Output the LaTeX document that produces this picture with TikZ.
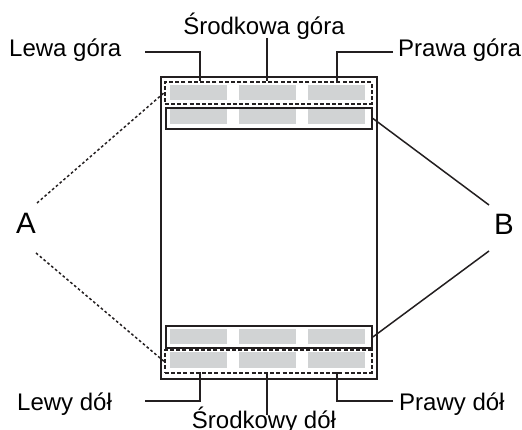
\documentclass[tikz,border=0pt]{standalone}
\usepackage{fontspec}
\setmainfont{Liberation Sans}
\definecolor{ink}{HTML}{231F20}
\definecolor{cell}{HTML}{D1D3D4}
\tikzset{
  pagebox/.style={draw=ink, line width=2.2pt, inner sep=0pt, anchor=north west},
  solidbox/.style={draw=ink, line width=1.9pt, inner sep=0pt, anchor=north west},
  dashbox/.style={draw=ink, line width=1.7pt, dash pattern=on 4pt off 2.2pt, inner sep=0pt, anchor=north west},
  cellbox/.style={fill=cell, inner sep=0pt, minimum width=57pt, anchor=north west},
  leader/.style={draw=ink, line width=1.5pt},
  dotleader/.style={draw=ink, line width=1.5pt, dash pattern=on 2.6pt off 2.4pt},
  lbl/.style={inner sep=0pt, font=\fontsize{24}{28}\selectfont},
  big/.style={inner sep=0pt, font=\fontsize{29.5}{34}\selectfont}
}
\begin{document}
\begin{tikzpicture}[x=1pt,y=-1pt]
\useasboundingbox (0,0) rectangle (522,430);
% page
\node[pagebox, minimum width=216pt, minimum height=302pt] (page) at (160,76) {};
% header / footer boxes
\node[dashbox, minimum width=207pt, minimum height=22pt] (dt) at (164,81) {};
\node[solidbox, minimum width=206pt, minimum height=21pt] (st) at (165,107) {};
\node[solidbox, minimum width=206pt, minimum height=22pt] (sb) at (165,325) {};
\node[dashbox, minimum width=207pt, minimum height=23pt] (db) at (164,349) {};
% cells
\foreach \x [count=\i] in {170,239,308}{
  \node[cellbox, minimum height=15pt] (c1\i) at (\x,85) {};
  \node[cellbox, minimum height=15pt] (c2\i) at (\x,109) {};
  \node[cellbox, minimum height=15pt] (c3\i) at (\x,329) {};
  \node[cellbox, minimum height=16pt] (c4\i) at (\x,352) {};
}
% labels
\node[lbl, anchor=base west] (lg) at (9,57) {Lewa góra};
\node[lbl, anchor=base] (sg) at (264,35) {Środkowa góra};
\node[lbl, anchor=base west] (pg) at (398,57) {Prawa góra};
\node[lbl, anchor=base west] (ld) at (17,410) {Lewy dół};
\node[lbl, anchor=base] (sd) at (264,428) {Środkowy dół};
\node[lbl, anchor=base west] (pd) at (399,410) {Prawy dół};
\node[big] (A) at (26,223) {A};
\node[big] (B) at (504,224) {B};
% leader ends
\coordinate (lgs) at (145,52);
\coordinate (pgs) at (393,52);
\coordinate (lds) at (145,401);
\coordinate (pds) at (393,401);
\coordinate (sgs) at (267,38);
\coordinate (sds) at (267,415);
\draw[leader] (lgs) -| (200,81);
\draw[leader] (sgs) -- (sgs |- dt.north);
\draw[leader] (pgs) -| (337,81);
\draw[leader] (lds) -| (200,372);
\draw[leader] (sds) -- (sds |- db.south);
\draw[leader] (pds) -| (337,372);
% A and B
\coordinate (a1) at (37,203);
\coordinate (a2) at (36,253);
\coordinate (b1) at (489,205);
\coordinate (b2) at (489,251);
\draw[dotleader] (a1) -- (dt.west);
\draw[dotleader] (a2) -- (db.west);
\draw[leader] (b1) -- (st.east);
\draw[leader] (b2) -- (sb.east);
\end{tikzpicture}
\end{document}
